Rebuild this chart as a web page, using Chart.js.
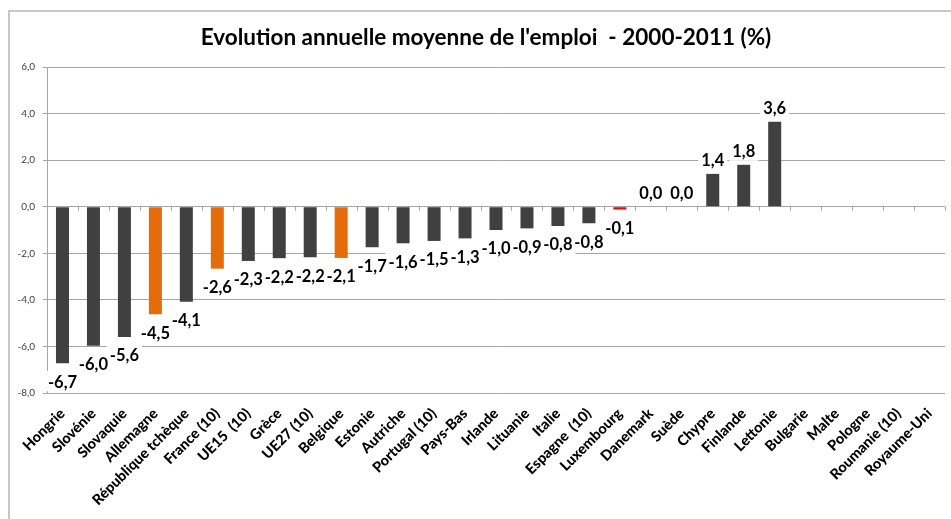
<!DOCTYPE html>
<html>
<head>
<meta charset="utf-8">
<script src="https://cdn.jsdelivr.net/npm/chart.js@4.4.1/dist/chart.umd.min.js"></script>
<style>
    html, body { margin: 0; padding: 0; background: #fff; overflow: hidden; }
    #wrap { position: relative; width: 951px; height: 519px; }
    #cadre { position: absolute; left: 8px; top: 10px; width: 1000px; height: 600px;
             border-left: 2px solid #c8c8c8; border-top: 2px solid #c8c8c8; }
    canvas { position: absolute; left: 0; top: 0; }
</style>
</head>
<body>
<div id="wrap">
    <div id="cadre"></div>
    <canvas id="graph" width="951" height="519"></canvas>
</div>
<script>
const titre = "Evolution annuelle moyenne de l'emploi  - 2000-2011 (%)";

// Pays (ordre du graphique)
const pays = ["Hongrie", "Slovénie", "Slovaquie", "Allemagne", "République tchèque", "France (10)",
    "UE15  (10)", "Grèce", "UE27 (10)", "Belgique", "Estonie", "Autriche", "Portugal (10)", "Pays-Bas",
    "Irlande", "Lituanie", "Italie", "Espagne  (10)", "Luxembourg", "Danemark", "Suède", "Chypre",
    "Finlande", "Lettonie", "Bulgarie", "Malte", "Pologne", "Roumanie (10)", "Royaume-Uni"];

// Hauteurs des barres
const valeurs = [-6.72, -5.97, -5.6, -4.62, -4.08, -2.66, -2.33, -2.21, -2.17, -2.2, -1.74, -1.57,
    -1.47, -1.36, -1.0, -0.93, -0.83, -0.71, -0.12, 0.0, 0.0, 1.41, 1.8, 3.65,
    null, null, null, null, null];

// Etiquettes affichées au bout des barres
const etiquettes = ["-6,7", "-6,0", "-5,6", "-4,5", "-4,1", "-2,6", "-2,3", "-2,2", "-2,2", "-2,1",
    "-1,7", "-1,6", "-1,5", "-1,3", "-1,0", "-0,9", "-0,8", "-0,8", "-0,1", "0,0", "0,0",
    "1,4", "1,8", "3,6", null, null, null, null, null];

// Pays mis en évidence
const paysOrange = ["Allemagne", "France (10)", "Belgique"];
const paysRouge = ["Luxembourg"];

const yMin = -8, yMax = 6, yPas = 2;

const couleurs = pays.map(p => paysRouge.includes(p) ? '#ff0000' : (paysOrange.includes(p) ? '#e46c0a' : '#404040'));

// titre centré un peu à gauche de la zone de tracé (comme dans Excel)
const titrePlugin = {
    id: 'titre',
    afterDraw(chart) {
        const ctx = chart.ctx;
        const { left, right } = chart.chartArea;
        ctx.save();
        ctx.font = 'bold 22.5px Lato';
        ctx.fillStyle = '#000';
        ctx.textAlign = 'center';
        ctx.textBaseline = 'middle';
        ctx.fillText(titre, (left + right) / 2 - 10, 38);
        ctx.restore();
    }
};

// petits traits de graduation sur la ligne du zéro
const traitsZero = {
    id: 'traitsZero',
    beforeDatasetsDraw(chart) {
        const ctx = chart.ctx;
        const xs = chart.scales.x;
        const y0 = chart.scales.y.getPixelForValue(0);
        const pas = xs.getPixelForValue(1) - xs.getPixelForValue(0);
        ctx.save();
        ctx.strokeStyle = '#a6a6a6';
        ctx.lineWidth = 1;
        ctx.beginPath();
        for (let i = 1; i <= pays.length; i++) {
            const x = Math.round(xs.getPixelForValue(i) - pas / 2) + 0.5;
            ctx.moveTo(x, y0);
            ctx.lineTo(x, y0 + 4);
        }
        ctx.stroke();
        ctx.restore();
    }
};

// étiquettes de données avec fond blanc (fonds d'abord, textes ensuite)
const etiquettesBarres = {
    id: 'etiquettesBarres',
    afterDatasetsDraw(chart) {
        const ctx = chart.ctx;
        const meta = chart.getDatasetMeta(0);
        ctx.save();
        ctx.font = 'bold 16.5px Lato';
        ctx.textAlign = 'center';
        ctx.textBaseline = 'middle';
        const items = [];
        meta.data.forEach((barre, i) => {
            const txt = etiquettes[i];
            if (txt == null) return;
            const cy = valeurs[i] < 0 ? barre.y + 18 : barre.y - 14;
            items.push({ txt, x: barre.x, cy, w: ctx.measureText(txt).width });
        });
        ctx.fillStyle = '#fff';
        items.forEach(it => ctx.fillRect(it.x - it.w / 2 - 3, it.cy - 10, it.w + 6, 20));
        ctx.fillStyle = '#000';
        items.forEach(it => ctx.fillText(it.txt, it.x, it.cy + 1));
        ctx.restore();
    }
};

new Chart(document.getElementById('graph'), {
    type: 'bar',
    plugins: [traitsZero, etiquettesBarres, titrePlugin],
    data: {
        labels: pays,
        datasets: [{
            data: valeurs,
            backgroundColor: couleurs,
            borderWidth: 0,
            barPercentage: 0.84,
            categoryPercentage: 0.5
        }]
    },
    options: {
        responsive: false,
        animation: false,
        layout: { padding: { top: 67, left: 12, right: 6, bottom: 0 } },
        plugins: {
            legend: { display: false },
            tooltip: { enabled: false },
            title: { display: false }
        },
        scales: {
            x: {
                offset: true,
                grid: { display: false },
                border: { display: false },
                ticks: {
                    autoSkip: false,
                    maxRotation: 45,
                    minRotation: 45,
                    padding: 4,
                    color: '#000',
                    font: { family: 'Lato', size: 14.5, weight: '900' }
                },
                afterFit(scale) { scale.height = 126; }
            },
            y: {
                min: yMin,
                max: yMax,
                ticks: {
                    stepSize: yPas,
                    padding: 8,
                    color: '#404040',
                    font: { family: 'Lato', size: 10 },
                    callback: v => v.toFixed(1).replace('.', ',')
                },
                grid: { color: '#a6a6a6', tickLength: 4 },
                border: { color: '#a6a6a6' },
                afterFit(scale) { scale.width = 35; }
            }
        }
    }
});
</script>
</body>
</html>
